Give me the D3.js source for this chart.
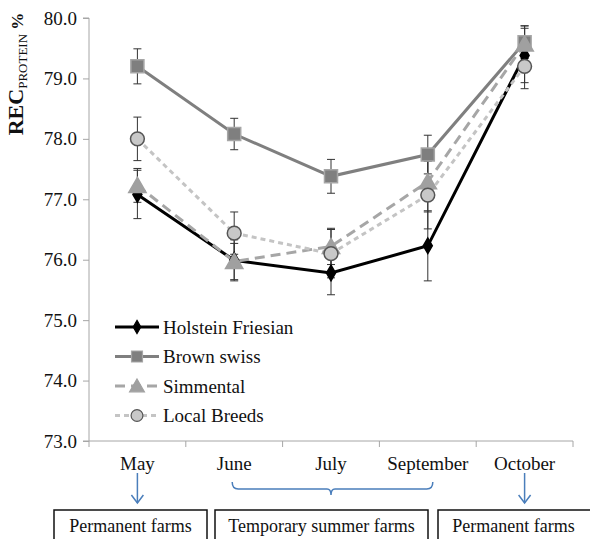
<!DOCTYPE html>
<html>
<head>
<meta charset="utf-8">
<script src="https://cdn.jsdelivr.net/npm/d3@7"></script>
<style>
  body { margin: 0; background: #fff; }
  svg text { font-family: "Liberation Serif", "Times New Roman", Times, serif; }
</style>
</head>
<body>
<div id="chart"></div>
<script>
// months on the x axis
const months = ["May", "June", "July", "September", "October"];
// y ticks
const yTicks = [73, 74, 75, 76, 77, 78, 79, 80];

// series values (REC protein %) and their error bars
const holstein = [77.08, 75.99, 75.78, 76.23, 79.38];
const holsteinErr = [0.40, 0.34, 0.36, 0.58, 0.45];
const brownSwiss = [79.20, 78.08, 77.38, 77.74, 79.60];
const brownSwissErr = [0.29, 0.26, 0.28, 0.32, 0.27];
const simmental = [77.23, 75.97, 76.22, 77.29, 79.57];
const simmentalErr = [0.28, 0.30, 0.30, 0.50, 0.30];
const localBreeds = [78.00, 76.44, 76.10, 77.07, 79.20];
const localErr = [0.36, 0.35, 0.40, 0.56, 0.37];

// farm periods under the axis
const periods = ["Permanent farms", "Temporary summer farms", "Permanent farms"];

const series = [
  {name: "Holstein Friesian", values: holstein, err: holsteinErr, color: "#000", width: 3, dash: null, marker: "diamond", fill: "#000", stroke: "#000"},
  {name: "Brown swiss", values: brownSwiss, err: brownSwissErr, color: "#7f7f7f", width: 3, dash: null, marker: "square", fill: "#7f7f7f", stroke: "#a6a6a6"},
  {name: "Simmental", values: simmental, err: simmentalErr, color: "#a6a6a6", width: 3, dash: "10,6", marker: "triangle", fill: "#a0a0a0", stroke: "#a0a0a0"},
  {name: "Local Breeds", values: localBreeds, err: localErr, color: "#c4c4c4", width: 3, dash: "5,4", marker: "circle", fill: "#c8c8c8", stroke: "#555"}
];

const W = 590, H = 539;
const margin = {left: 89, right: 17, top: 18, bottom: 98};
const serif = "Liberation Serif, Times New Roman, serif";

const svg = d3.select("#chart").append("svg")
  .attr("width", W).attr("height", H)
  .attr("font-family", serif);

const x = d3.scaleBand().domain(months).range([margin.left, W - margin.right]);
const y = d3.scaleLinear().domain([73, 80]).range([H - margin.bottom, margin.top]);

// y axis
const yAxis = svg.append("g")
  .attr("transform", `translate(${margin.left},0)`)
  .call(d3.axisLeft(y).tickValues(yTicks).tickFormat(d3.format(".1f")).tickSize(6).tickPadding(6));
yAxis.attr("font-family", serif);
yAxis.selectAll("line, path").attr("stroke", "#a6a6a6");
yAxis.select(".domain").attr("d", `M-6,${y(80)}H0V${y(73)}H-6`);
yAxis.selectAll("text").attr("font-size", 19).attr("fill", "#111");

// x axis: ticks at band boundaries
const xg = svg.append("g").attr("transform", `translate(0,${y(73)})`);
xg.append("line").attr("x1", x.range()[0]).attr("x2", x.range()[1])
  .attr("stroke", "#a6a6a6");
const bounds = months.map(m => x(m)).concat([x.range()[1]]);
xg.selectAll(".tk").data(bounds).join("line")
  .attr("x1", d => d).attr("x2", d => d).attr("y1", 0).attr("y2", 6)
  .attr("stroke", "#a6a6a6");
xg.selectAll(".lbl").data(months).join("text")
  .attr("x", d => x(d) + x.bandwidth() / 2)
  .attr("y", 29)
  .attr("text-anchor", "middle")
  .attr("font-size", 19).attr("fill", "#111")
  .text(d => d);

// y label
const ylab = svg.append("text")
  .attr("transform", `translate(23,74) rotate(-90)`)
  .attr("text-anchor", "middle")
  .attr("fill", "#111");
ylab.append("tspan").attr("font-weight", "bold").attr("font-size", 22).text("REC");
ylab.append("tspan").attr("font-size", 13).attr("dy", 4).text("PROTEIN");
ylab.append("tspan").attr("font-weight", "bold").attr("font-size", 17).attr("dy", -4).text(" %");

const cx = m => x(m) + x.bandwidth() / 2;

const symbols = {
  diamond: d3.symbol().type(d3.symbolDiamond).size(70),
  square: d3.symbol().type(d3.symbolSquare).size(170),
  triangle: d3.symbol().type(d3.symbolTriangle).size(130),
  circle: d3.symbol().type(d3.symbolCircle).size(150)
};
const legendSymbols = {
  diamond: d3.symbol().type(d3.symbolDiamond).size(50),
  square: d3.symbol().type(d3.symbolSquare).size(120),
  triangle: d3.symbol().type(d3.symbolTriangle).size(95),
  circle: d3.symbol().type(d3.symbolCircle).size(110)
};

const line = d3.line().x((d, i) => cx(months[i])).y(d => y(d));

// error bars beneath, then lines, then markers
series.forEach(s => {
  const g = svg.append("g");
  g.selectAll("g.eb").data(s.values).join("g").each(function (v, i) {
    const e = d3.select(this);
    const px = cx(months[i]);
    const lo = y(v - s.err[i]), hi = y(v + s.err[i]);
    e.append("line").attr("x1", px).attr("x2", px).attr("y1", lo).attr("y2", hi)
      .attr("stroke", "#333").attr("stroke-width", 1);
    [lo, hi].forEach(yy => e.append("line").attr("x1", px - 4).attr("x2", px + 4)
      .attr("y1", yy).attr("y2", yy).attr("stroke", "#333").attr("stroke-width", 1));
  });
});

series.forEach(s => {
  svg.append("path").datum(s.values)
    .attr("d", line)
    .attr("fill", "none")
    .attr("stroke", s.color)
    .attr("stroke-width", s.width)
    .attr("stroke-dasharray", s.dash);
});

series.forEach(s => {
  svg.append("g").selectAll("path").data(s.values).join("path")
    .attr("d", symbols[s.marker])
    .attr("transform", (d, i) => `translate(${cx(months[i])},${y(d) + (s.marker === "triangle" ? 2 : 0)})`)
    .attr("fill", s.fill)
    .attr("stroke", s.stroke)
    .attr("stroke-width", 1.5);
});

// legend
const legend = svg.append("g").attr("transform", "translate(115,327)");
series.forEach((s, i) => {
  const row = legend.append("g").attr("transform", `translate(0,${i * 29.5})`);
  row.append("line").attr("x1", 0).attr("x2", 44).attr("y1", 0).attr("y2", 0)
    .attr("stroke", s.color).attr("stroke-width", s.width)
    .attr("stroke-dasharray", s.dash);
  row.append("path").attr("d", legendSymbols[s.marker])
    .attr("transform", `translate(22,${s.marker === "triangle" ? 1.5 : 0})`)
    .attr("fill", s.fill).attr("stroke", s.stroke).attr("stroke-width", 1.2);
  row.append("text").attr("x", 48).attr("y", 6.5)
    .attr("font-size", 19).attr("fill", "#111").text(s.name);
});

// annotations below the axis
const blue = "#4a7ebb";
const ann = svg.append("g").attr("stroke", blue).attr("fill", "none").attr("stroke-width", 1.5);
[months[0], months[4]].forEach(m => {
  const px = cx(m);
  ann.append("line").attr("x1", px).attr("x2", px).attr("y1", 473).attr("y2", 503);
  ann.append("path").attr("d", `M${px - 6},${495}L${px},${503}L${px + 6},${495}`);
});
// brace from June to September
const bx1 = cx(months[1]) - 2, bx2 = cx(months[3]) + 5, bm = cx(months[2]);
ann.append("path").attr("d",
  `M${bx1},482 Q${bx1},489 ${bx1 + 6},489 L${bm - 4},489 Q${bm},489 ${bm},495 Q${bm},489 ${bm + 4},489 L${bx2 - 6},489 Q${bx2},489 ${bx2},482`);

const boxes = [
  {x0: 54, x1: 207},
  {x0: 215, x1: 428},
  {x0: 438, x1: 600}
];
const bg = svg.append("g");
periods.forEach((p, i) => {
  const b = boxes[i];
  bg.append("rect").attr("x", b.x0).attr("y", 510).attr("width", b.x1 - b.x0).attr("height", 40)
    .attr("fill", "none").attr("stroke", "#111").attr("stroke-width", 1.5);
  bg.append("text").attr("x", (b.x0 + Math.min(b.x1, 589)) / 2).attr("y", 532)
    .attr("text-anchor", "middle").attr("font-size", 18).attr("fill", "#111").text(p);
});
</script>
</body>
</html>
